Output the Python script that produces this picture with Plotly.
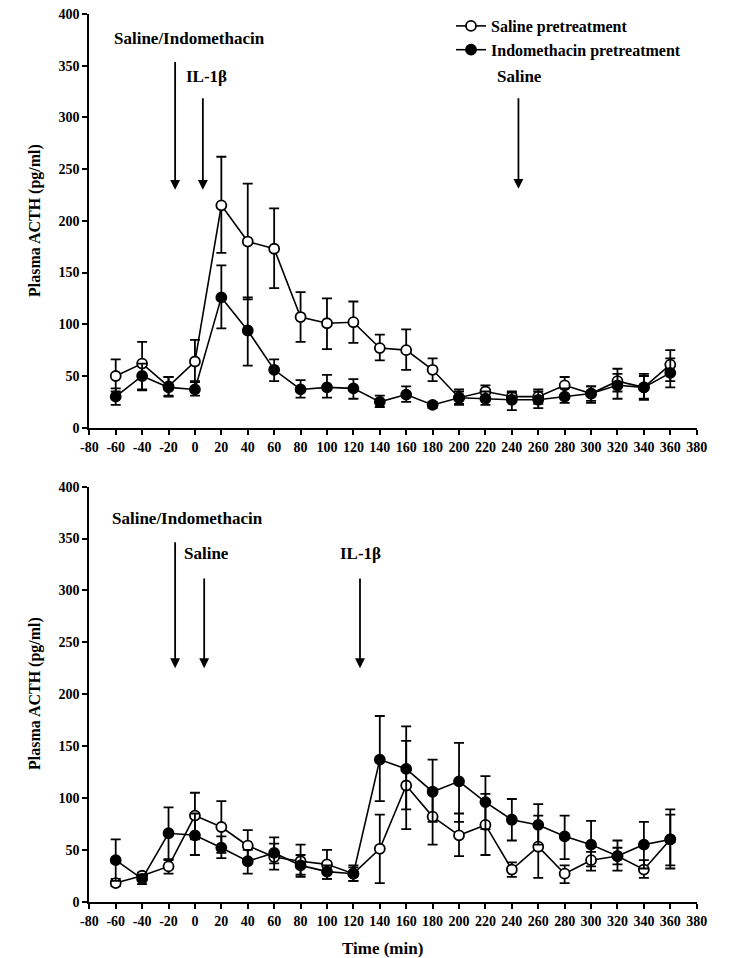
import plotly.graph_objects as go

# ---------------- data ----------------
time_min = [-60, -40, -20, 0, 20, 40, 60, 80, 100, 120, 140, 160, 180, 200,
            220, 240, 260, 280, 300, 320, 340, 360]

# Top panel (IL-1beta at ~0 min)
top_saline_mean = [50, 62, 40, 64, 215, 180, 173, 107, 101, 102, 77, 75, 56, 29,
                   35, 30, 30, 41, 33, 45, 39, 61]
top_saline_upper = [66, 83, 49, 85, 262, 236, 212, 131, 125, 122, 90, 95, 67, 37,
                    41, 35, 37, 49, 40, 57, 52, 75]
top_saline_lower = [35, 36, 31, 45, 169, 124, 135, 83, 76, 82, 65, 56, 45, 22,
                    28, 25, 23, 32, 26, 35, 28, 45]

top_indo_mean = [30, 50, 39, 37, 126, 94, 56, 37, 39, 38, 25, 32, 22, 29,
                 28, 27, 27, 30, 33, 41, 39, 53]
top_indo_upper = [38, 62, 49, 44, 157, 126, 66, 46, 51, 47, 31, 40, 25, 35,
                  35, 34, 35, 38, 40, 52, 50, 67]
top_indo_lower = [22, 37, 30, 31, 96, 60, 45, 29, 29, 28, 20, 25, 19, 23,
                  22, 17, 19, 24, 24, 28, 27, 39]

# Bottom panel (IL-1beta at ~120 min)
bot_saline_mean = [18, 25, 34, 83, 72, 54, 43, 39, 36, 27, 51, 112, 82, 64,
                   74, 31, 53, 27, 40, 44, 31, 60]
bot_saline_upper = [22, 28, 41, 105, 97, 69, 62, 55, 50, 35, 84, 155, 109, 85,
                    104, 38, 83, 35, 48, 52, 40, 89]
bot_saline_lower = [15, 22, 27, 60, 47, 38, 31, 24, 22, 20, 18, 70, 55, 44,
                    45, 24, 23, 18, 30, 36, 23, 32]

bot_indo_mean = [40, 22, 66, 64, 52, 39, 47, 35, 29, 27, 137, 128, 106, 116,
                 96, 79, 74, 63, 55, 44, 55, 60]
bot_indo_upper = [60, 26, 91, 85, 63, 50, 56, 45, 35, 33, 179, 169, 137, 153,
                  121, 99, 94, 83, 78, 59, 77, 84]
bot_indo_lower = [20, 17, 40, 45, 42, 27, 37, 26, 22, 20, 97, 89, 77, 77,
                  70, 59, 55, 41, 34, 30, 32, 35]

series_names = ["Saline pretreatment", "Indomethacin pretreatment"]
x_ticks = list(range(-80, 381, 20))
x_tick_labels = [str(v) for v in x_ticks]   # plain hyphen minus as in the original
y_ticks = list(range(0, 401, 50))

# arrows: (x, y_tail, y_tip)
top_arrows = [(-15, 355, 230), (6, 320, 230), (245, 320, 231)]
bot_arrows = [(-15, 348, 225), (7, 313, 225), (125, 313, 225)]
top_labels = [("Saline/Indomethacin", -63, 376), ("IL-1β", -8, 340), ("Saline", 227, 340)]
bot_labels = [("Saline/Indomethacin", -64, 369), ("Saline", -10, 336), ("IL-1β", 108, 336)]

FONT = "Liberation Serif"
OFF = 8  # page offset of the plot div (body margin)

fig = go.Figure()


def add_series(mean, upper, lower, filled, name, xa, ya, show):
    fig.add_trace(go.Scatter(
        x=time_min, y=mean, name=name, mode="lines+markers",
        xaxis=xa, yaxis=ya, showlegend=show,
        line=dict(color="black", width=1.6),
        marker=dict(symbol="circle", size=10,
                    color="black" if filled else "white",
                    line=dict(color="black", width=1.8)),
        error_y=dict(type="data", symmetric=False,
                     array=[u - m for u, m in zip(upper, mean)],
                     arrayminus=[m - l for m, l in zip(mean, lower)],
                     color="black", thickness=1.8, width=5),
    ))


add_series(top_saline_mean, top_saline_upper, top_saline_lower, False, series_names[0], "x", "y", True)
add_series(top_indo_mean, top_indo_upper, top_indo_lower, True, series_names[1], "x", "y", True)
add_series(bot_saline_mean, bot_saline_upper, bot_saline_lower, False, series_names[0], "x2", "y2", False)
add_series(bot_indo_mean, bot_indo_upper, bot_indo_lower, True, series_names[1], "x2", "y2", False)

annotations = []
for arrows, labels, xr, yr in [(top_arrows, top_labels, "x", "y"), (bot_arrows, bot_labels, "x2", "y2")]:
    for (ax_, y0, y1) in arrows:
        annotations.append(dict(x=ax_, y=y1, ax=ax_, ay=y0, xref=xr, yref=yr,
                                axref=xr, ayref=yr, showarrow=True, text="",
                                arrowhead=2, arrowsize=1.1, arrowwidth=1.8,
                                arrowcolor="black"))
    for (txt, lx, ly) in labels:
        annotations.append(dict(x=lx, y=ly, xref=xr, yref=yr, text="<b>%s</b>" % txt,
                                showarrow=False, xanchor="left", yanchor="middle",
                                font=dict(family=FONT, size=17, color="black")))

W, H = 750, 958


def px_x(v):
    return (v - OFF) / W


def px_y(v):
    return 1 - (v - OFF) / H


# axis titles
annotations.append(dict(x=px_x(382), y=px_y(948), xref="paper", yref="paper",
                        text="<b>Time (min)</b>", showarrow=False,
                        xanchor="center", yanchor="middle",
                        font=dict(family=FONT, size=17, color="black")))
for yc in [221, 694]:
    annotations.append(dict(x=px_x(35), y=px_y(yc), xref="paper", yref="paper",
                            text="<b>Plasma ACTH (pg/ml)</b>", showarrow=False, textangle=-90,
                            xanchor="center", yanchor="middle",
                            font=dict(family=FONT, size=16, color="black")))

axis_common = dict(showline=True, linecolor="black", linewidth=2, ticks="outside",
                   tickcolor="black", tickwidth=2, ticklen=5, showgrid=False,
                   zeroline=False, automargin=False, ticklabeloverflow="allow",
                   tickfont=dict(family=FONT, size=14, color="black", weight="bold"))

xd = [px_x(89.3), px_x(696.7)]
fig.update_layout(
    width=W, height=H,
    margin=dict(l=0, r=0, t=0, b=0, autoexpand=False),
    paper_bgcolor="white", plot_bgcolor="white",
    font=dict(family=FONT, color="black"),
    xaxis=dict(domain=xd, range=[-80, 380], tickvals=x_ticks, ticktext=x_tick_labels,
               anchor="y", **axis_common),
    yaxis=dict(domain=[px_y(427.7), px_y(14)], range=[0, 400], tickvals=y_ticks,
               anchor="x", **axis_common),
    xaxis2=dict(domain=xd, range=[-80, 380], tickvals=x_ticks, ticktext=x_tick_labels,
                anchor="y2", **axis_common),
    yaxis2=dict(domain=[px_y(901.7), px_y(486.7)], range=[0, 400], tickvals=y_ticks,
                anchor="x2", **axis_common),
    legend=dict(x=px_x(451), y=px_y(9), xanchor="left", yanchor="top",
                bgcolor="rgba(0,0,0,0)", tracegroupgap=0, itemwidth=30,
                font=dict(family=FONT, size=16, color="black", weight="bold")),
    annotations=annotations,
    showlegend=True,
)

fig.write_html("out.html")
